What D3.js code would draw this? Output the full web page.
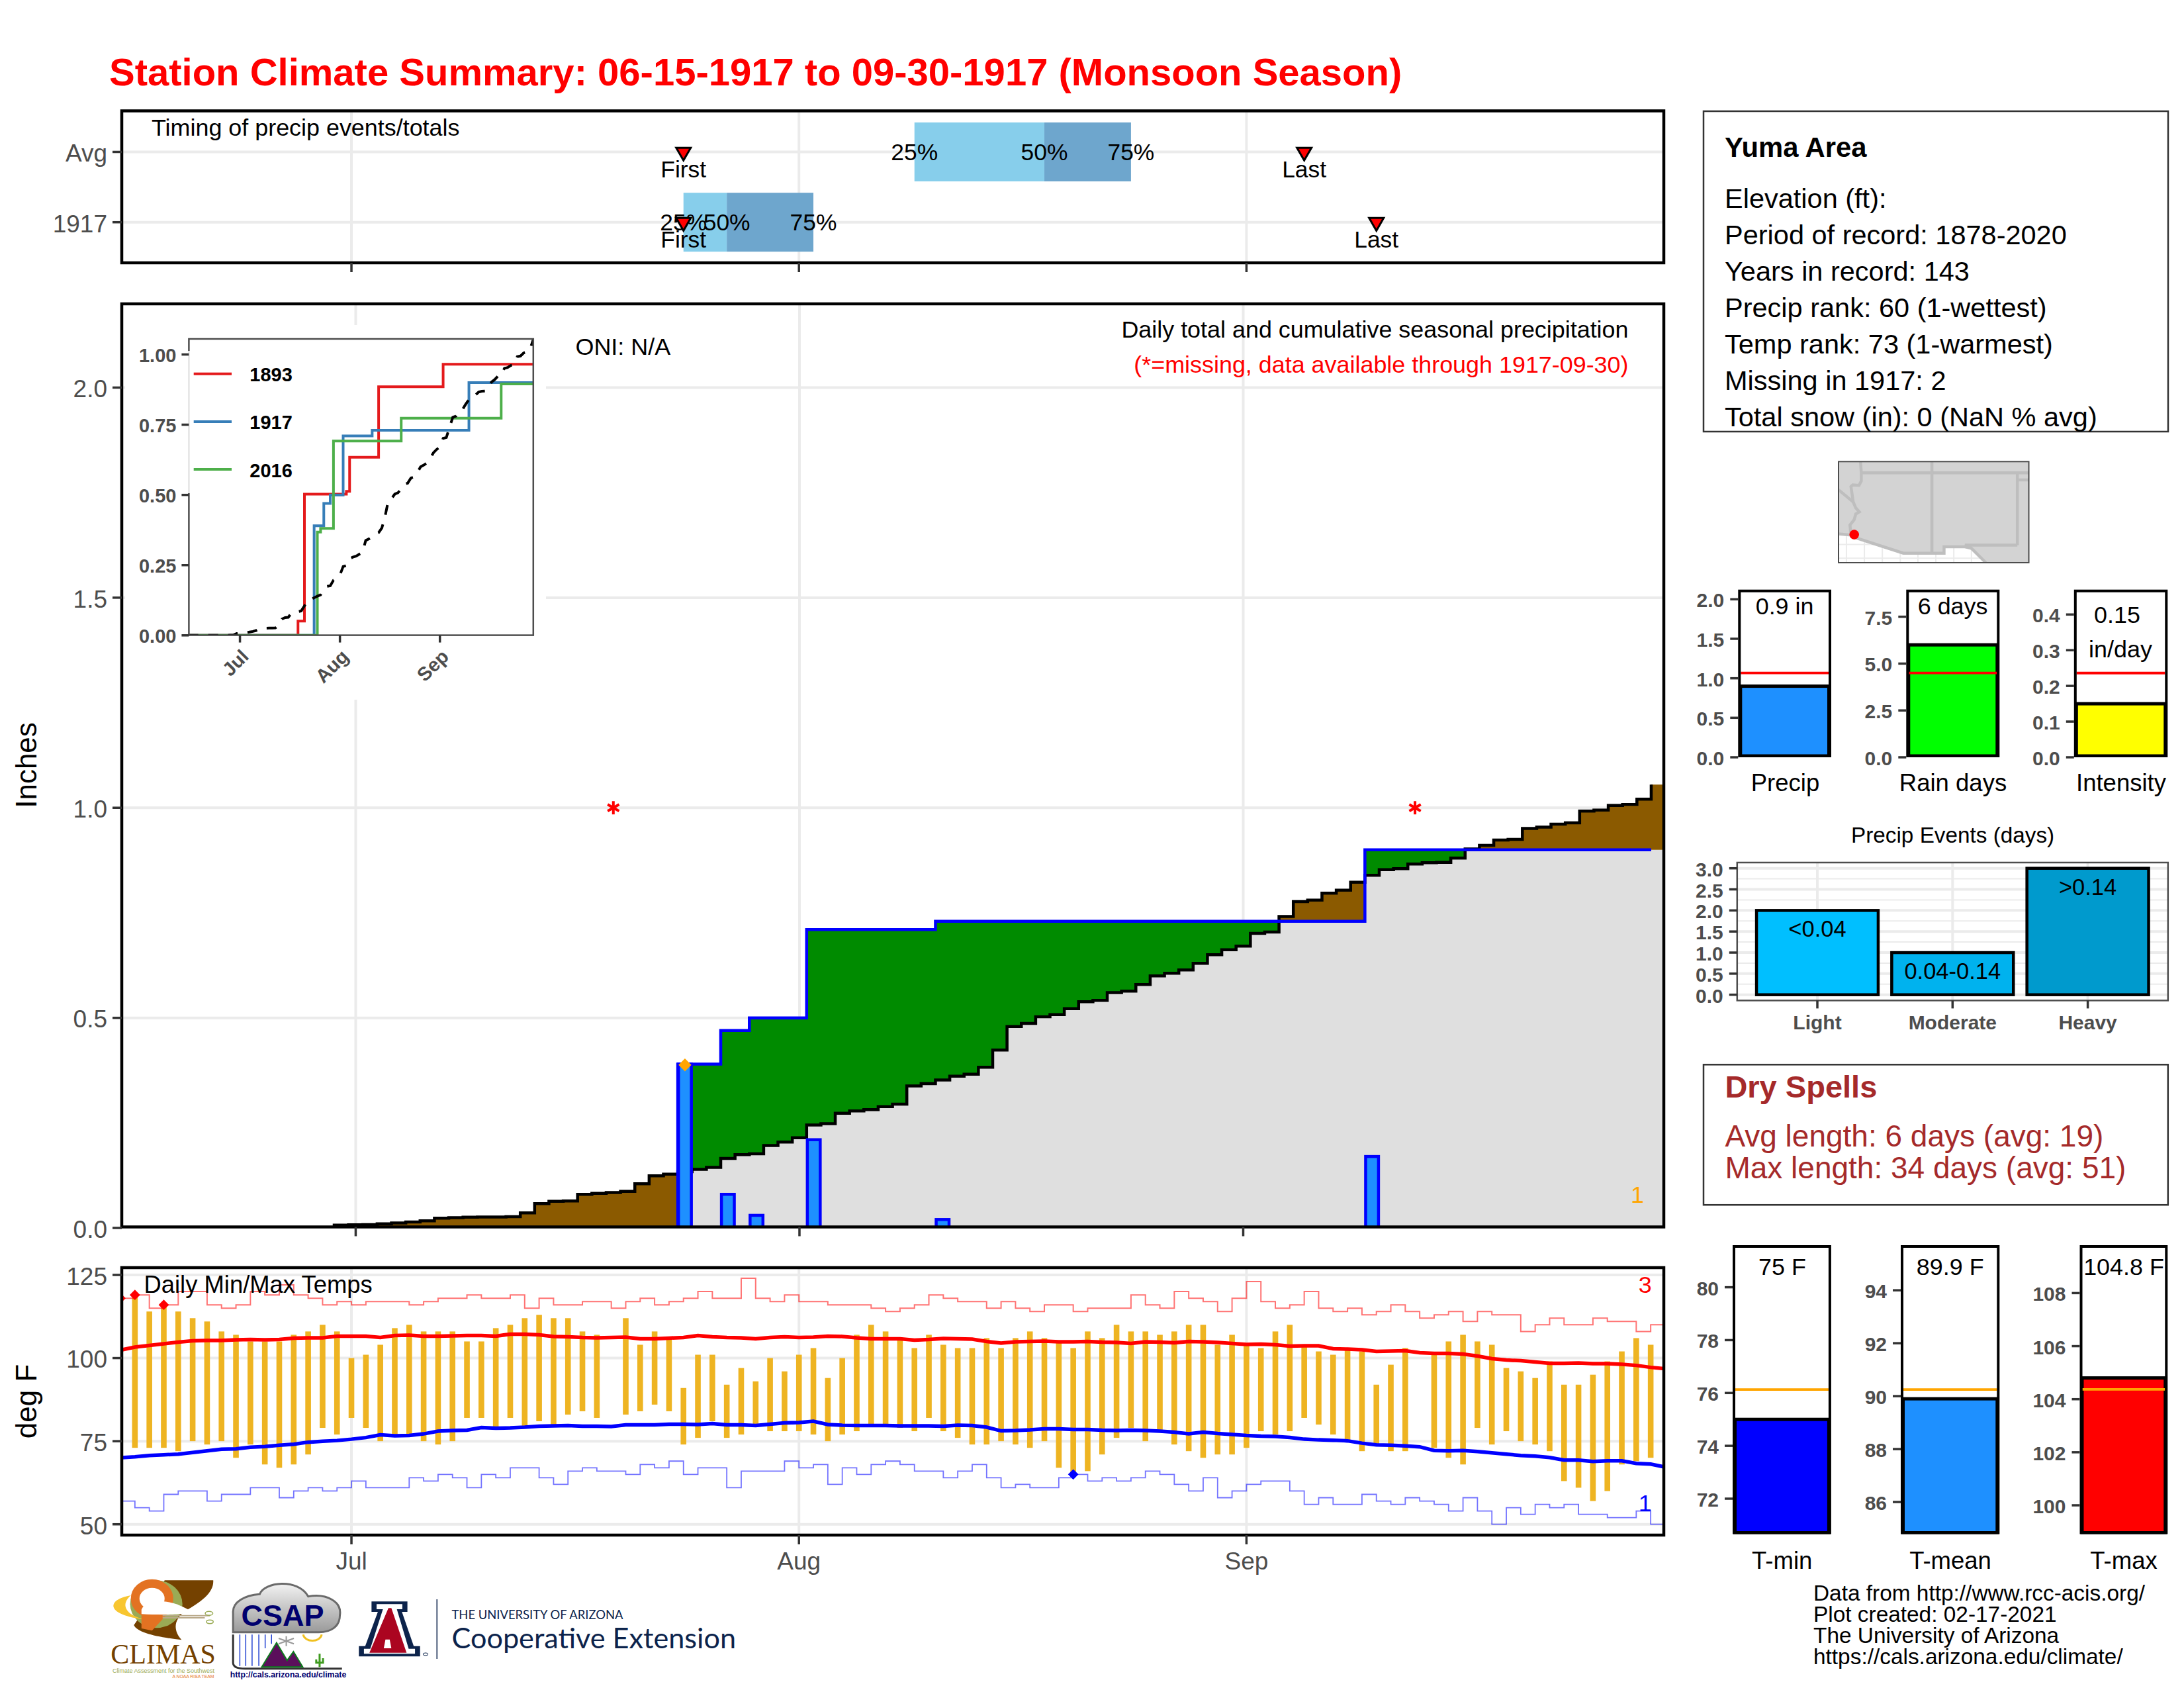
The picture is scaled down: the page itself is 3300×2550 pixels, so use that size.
<!DOCTYPE html>
<html lang="en">
<head>
  <meta charset="UTF-8">
  <title>Station Climate Summary</title>
  <style>
    html, body { margin: 0; background: #fff; }
    svg { display: block; }
    text { font-family: "Liberation Sans", Arial, sans-serif; }
  </style>
</head>
<body>
  <script src="https://d3js.org/d3.v7.min.js"></script>
  <script>
    // day index: 0 = Jun 15 ... 107 = Sep 30
    const monthDays = [16, 47, 78];
    const monthNames = ["Jul", "Aug", "Sep"];

    // timing strip
    const timingRows = ["Avg", "1917"];
    const timingQ25 = [55, 39];
    const timingQ50 = [64, 42];
    const timingQ75 = [70, 48];
    const timingFirst = [39, 39];
    const timingLast = [82, 87];

    // daily precip (inches)
    const wetDays = [39, 42, 44, 48, 57, 87];
    const wetAmounts = [0.39, 0.08, 0.03, 0.21, 0.02, 0.17];
    const missingDays = [34, 90];
    const maxPrecipDay = 39;

    // average cumulative precip for each day
    const avgCum = [
      0, 0, 0, 0, 0, 0, 0, 0, 0, 0, 0, 0, 0, 0.0005, 0.001, 0.0066,
      0.0076, 0.0077, 0.0097, 0.0118, 0.014, 0.0171, 0.0234, 0.0245, 0.0256, 0.026, 0.026, 0.0266,
      0.0359, 0.058, 0.0633, 0.0643, 0.08, 0.0822, 0.0844, 0.0869, 0.105, 0.124, 0.128, 0.134,
      0.1395, 0.1443, 0.1655, 0.1744, 0.1765, 0.1963, 0.2045, 0.2148, 0.2449, 0.2483, 0.2729, 0.2784,
      0.2818, 0.2886, 0.2948, 0.3379, 0.3434, 0.3523, 0.3611, 0.3659, 0.3824, 0.4234, 0.4795, 0.487,
      0.5027, 0.5075, 0.5219, 0.5383, 0.5417, 0.5602, 0.5636, 0.5795, 0.5999, 0.6062, 0.614, 0.6298,
      0.6502, 0.6619, 0.6706, 0.7012, 0.7043, 0.7412, 0.7765, 0.7804, 0.7969, 0.804, 0.8228, 0.8393,
      0.8526, 0.855, 0.866, 0.8691, 0.8699, 0.8801, 0.902, 0.9107, 0.9232, 0.9248, 0.9507, 0.9538,
      0.9609, 0.964, 0.9923, 0.9946, 1.0056, 1.008, 1.0205, 1.055
    ];

    // inset: wettest years, cumulative totals at the days they changed
    const insetYears = ["1893", "1917", "2016"];
    const insetColors = ["#E41A1C", "#377EB8", "#4DAF4A"];
    const days1893 = [0, 34, 36, 49, 50, 59, 79, 107];
    const cum1893 = [0, 0.051, 0.503, 0.513, 0.634, 0.885, 0.965, 0.965];
    const days1917 = [0, 39, 42, 44, 48, 57, 87, 107];
    const cum1917 = [0, 0.39, 0.47, 0.5, 0.71, 0.73, 0.9, 0.9];
    const days2016 = [0, 40, 41, 45, 66, 97, 107];
    const cum2016 = [0, 0.368, 0.381, 0.692, 0.773, 0.895, 0.895];

    // temps (deg F), index = day
    const tmax = [
      null, 119, 114, 116, 114, 112, 111, 108, 107, 105, 105, 105, 107, 108, 110, 108,
      100, 101, 104, 109, 110, 108, 108, 108, 105, 105, 109, 110, 112, 113, 112, 112, 108, 107, null, 112, 104, 108, 106, 91,
      101, 101, 92, 97, 93, 100, 96, 101, 103, 94, 100, 107,
      110, 108, 106, 103, 107, 104, 103, 103, 106, 103, 106, 108, 106, 105, 103, 108, 106, 110, 108, 108, 107, 108, 110, 110, 104, 107,
      104, 103, 108, 110, 104, 102, 101, 103, 102, 92, 98, 103, null, 101, 105, 107, 105, 104, 97, 96, 94, 99, 92, 92, 95, 99, 102, 106, 104
    ];
    const tmin = [
      null, 73, 73, 73, 72, 75, 74, 75, 70, 74, 68, 67, 68, 71, 79, 77,
      82, 79, 75, 77, 77, 75, 74, 75, 82, 82, 79, 82, 79, 81, 80, 83, 84, 82, null, 83, 84, 86, 84, 74,
      76, 81, 76, 77, 80, 78, 78, 78, 77, 75, 77, 78,
      80, 80, 79, 78, 82, 78, 76, 74, 74, 75, 74, 73, 75, 67, 65, 66, 71, 76, 79, 75, 78, 74, 72, 70, 71, 71,
      73, 78, 77, 78, 82, 80, 77, 75, 72, 74, 72, 72, null, 73, 70, 68, 79, 74, 78, 75, 74, 72, 63, 61, 57, 60, 68, 69, 70
    ];
    const avgHigh = [
      102.4, 103.3, 103.8, 104.3, 104.8, 105.2, 105.3, 105.3, 105.5, 105.6, 105.5, 105.6, 106, 106.1, 106.1, 106.6,
      106.6, 106.6, 106.2, 106.8, 106.9, 106.6, 106.6, 106.7, 106.8, 106.8, 106.6, 107.2, 107.2, 107, 106.5, 106.4, 106.2, 106.1, 106.2, 106.3, 105.8, 105.8, 106, 106.2,
      106.8, 106.4, 106.2, 106.1, 105.8, 106.2, 106.4, 106.2, 106.3, 106.6, 106.5, 106.1,
      105.8, 105.8, 105.8, 105.4, 105.6, 105.9, 105.8, 105.7, 105, 104.5, 104.9, 105, 105.1, 104.9, 104.9, 105, 104.8, 104.7, 104.4, 104.9, 104.8, 104.6, 105, 104.9, 104.7, 104.4,
      104.1, 104.2, 104, 103.6, 103.7, 103.7, 102.8, 102.7, 102.5, 102, 102.1, 102.2, 101.6, 101.4, 101.4, 101.2, 100.6, 99.8, 99.4, 99.2, 98.8, 98.4, 98.4, 98.5, 98.3, 98.3, 98.1, 97.8, 97.2, 96.8
    ];
    const avgLow = [
      70, 70.3, 70.7, 70.9, 71.1, 71.6, 72.1, 72.6, 72.7, 73.2, 73.4, 73.8, 74.1, 74.7, 75, 75.2,
      75.6, 76.1, 76.9, 76.6, 76.7, 77.2, 78, 78.2, 78.3, 79.1, 78.9, 79, 79.2, 79.5, 79.6, 79.7, 79.5, 79.5, 79.4, 79.9, 79.9, 79.9, 80.1, 80.1,
      80, 80.3, 79.9, 79.9, 79.7, 80.1, 80.5, 80.6, 81, 80, 79.8, 79.7,
      79.7, 79.7, 79.6, 79.6, 79.6, 79.5, 79.8, 79.7, 79.2, 78.1, 78.2, 78.4, 78.7, 78.7, 78.5, 78.5, 78.3, 78.2, 78.3, 78.2, 78, 77.7, 77.2, 77.7, 77.3, 77,
      76.7, 76.5, 76.4, 76.1, 75.6, 75.4, 75.3, 75.1, 74.4, 73.9, 73.8, 73.6, 73.3, 72.2, 72.1, 72.2, 71.9, 71.5, 71.1, 70.7, 70.5, 70.1, 69.3, 69.3, 68.9, 69.1, 69.1, 68.3, 68.1, 67.2
    ];
    const recordHigh = [
      118, 119, 115, 116, 120, 120, 116, 115, 116, 120, 119, 122, 119, 118, 116, 117,
      116, 117, 117, 117, 116, 117, 118, 118, 119, 118, 118, 119, 115, 118, 116, 116, 117, 117, 115, 117, 118, 116, 117, 118,
      120, 118, 118, 124, 118, 117, 119, 117, 117, 116, 116, 116,
      115, 114, 115, 116, 119, 118, 117, 117, 115, 117, 115, 114, 116, 116, 114, 115, 115, 115, 119, 116, 115, 120, 118, 117, 114, 118,
      123, 117, 115, 116, 120, 115, 114, 115, 113, 114, 116, 114, 112, 113, 114, 111, 114, 113, 113, 108, 110, 112, 110, 110, 112, 111, 111, 108, 110
    ];
    const recordLow = [
      57, 55, 54, 59, 60, 60, 57, 59, 59, 61, 61, 58, 60, 61, 60, 61,
      63, 61, 61, 61, 64, 63, 65, 64, 61, 65, 64, 67, 67, 64, 62, 66, 67, 66, 66, 65, 68, 67, 69, 65,
      67, 67, 61, 66, 66, 66, 69, 67, 68, 62, 67, 65,
      68, 69, 68, 66, 66, 64, 66, 68, 64, 61, 62, 61, 61, 64, 65, 63, 64, 63, 64, 66, 65, 62, 60, 64, 58, 60,
      62, 63, 63, 60, 56, 58, 56, 56, 59, 57, 56, 58, 57, 56, 54, 58, 54, 50, 55, 53, 56, 55, 56, 53, 53, 52, 52, 54, 50
    ];
    const recordHighDays = [0, 1, 3];
    const recordLowDays = [66];

    // side summary bars
    const precipBar = { value: 0.9, avg: 1.068 };
    const rainBar = { value: 6, avg: 4.5 };
    const intensityBar = { value: 0.15, avg: 0.236 };
    const tminBar = { value: 75, avg: 76.13 };
    const tmeanBar = { value: 89.9, avg: 90.25 };
    const tmaxBar = { value: 104.8, avg: 104.37 };

    const eventNames = ["Light", "Moderate", "Heavy"];
    const eventDays = [2, 1, 3];
    const eventLabels = ["<0.04", "0.04-0.14", ">0.14"];
    const eventColors = ["#00BFFF", "#00B2EE", "#009ACD"];

    const infoLines = [
      "Elevation (ft):",
      "Period of record: 1878-2020",
      "Years in record: 143",
      "Precip rank: 60 (1-wettest)",
      "Temp rank: 73 (1-warmest)",
      "Missing in 1917: 2",
      "Total snow (in): 0 (NaN % avg)"
    ];
    const creditLines = [
      "Data from http://www.rcc-acis.org/",
      "Plot created: 02-17-2021",
      "The University of Arizona",
      "https://cals.arizona.edu/climate/"
    ];

    // state lines for the locator map (lon, lat)
    const mexicoEdge = [[-115.66, 32.69], [-114.78, 32.61], [-114.55, 32.45], [-111.07, 31.33], [-108.19, 31.33],
      [-108.19, 31.78], [-106.71, 31.78], [-106.25, 31.67], [-105.23, 30.66]];
    const stateLines = [
      mexicoEdge,
      [[-114.78, 32.61], [-114.85, 33.31], [-114.55, 33.7], [-114.44, 34.09], [-114.19, 34.24], [-114.44, 34.52],
        [-114.62, 34.94], [-114.78, 36.03], [-114.66, 36.14], [-114.21, 36.11], [-114.05, 36.42], [-114.05, 37], [-114.1, 37.79]],
      [[-115.66, 35.8], [-114.62, 34.94]],
      [[-114.05, 37], [-102.19, 37]],
      [[-109.05, 37.79], [-109.05, 31.33]],
      [[-103, 37], [-103, 31.9]],
      [[-103, 36.5], [-102.19, 36.5]],
      [[-103, 31.9], [-106.71, 31.9], [-106.25, 31.67]]
    ];
    const mapGridLons = [-115.1, -113.83, -112.56, -111.29, -110.04, -108.77, -107.5, -106.25];
    const mapGridLats = [31.94, 30.97];
    const stationLonLat = [-114.55, 32.64];

    const width = 3300, height = 2550;
    const ink = "#4D4D4D", tickInk = "#333333", gridInk = "#EBEBEB";
    const noteSize = 35.9;

    const svg = d3.select(document.body).append("svg")
      .attr("xmlns", "http://www.w3.org/2000/svg")
      .attr("width", width).attr("height", height)
      .attr("viewBox", [0, 0, width, height]);

    const label = (g, x, y, s, size, opts = {}) =>
      g.append("text").attr("x", x).attr("y", y).text(s)
        .attr("font-size", size)
        .attr("text-anchor", opts.anchor || "start")
        .attr("font-weight", opts.weight || "normal")
        .attr("fill", opts.fill || "#000");

    const styleAxis = (g, size, weight) => {
      g.select(".domain").remove();
      g.selectAll(".tick line").attr("stroke", tickInk).attr("stroke-width", 3.5);
      g.selectAll(".tick text")
        .attr("font-size", size).attr("font-weight", weight)
        .attr("fill", ink)
        .attr("dy", function () { return this.getAttribute("dy") === "0.32em" ? "0.4em" : this.getAttribute("dy"); });
    };

    let clipCount = 0;
    const clipRect = (x, y, w, h) => {
      const id = `clip${clipCount++}`;
      svg.append("clipPath").attr("id", id).append("rect")
        .attr("x", x).attr("y", y).attr("width", w).attr("height", h);
      return `url(#${id})`;
    };

    const panelLeft = 184, panelRight = 2514;
    const panelFrame = (top, bottom) =>
      svg.append("rect").attr("x", panelLeft).attr("y", top)
        .attr("width", panelRight - panelLeft).attr("height", bottom - top)
        .attr("fill", "none").attr("stroke", "#000").attr("stroke-width", 4.5);

    label(svg, 165, 129, "Station Climate Summary: 06-15-1917 to 09-30-1917 (Monsoon Season)", 58, { weight: "bold", fill: "red" });

    // ---------- timing strip
    const dayX = d3.scaleLinear().domain([0.09, 106.91]).range([panelLeft, panelRight]);
    {
      const top = 167.5, bottom = 397;
      const y = d3.scalePoint().domain(timingRows).range([229.5, 335.7]);
      const g = svg.append("g");
      g.selectAll(".gy").data(timingRows).join("line")
        .attr("x1", panelLeft).attr("x2", panelRight)
        .attr("y1", d => y(d)).attr("y2", d => y(d))
        .attr("stroke", gridInk).attr("stroke-width", 4);
      g.selectAll(".gx").data(monthDays).join("line")
        .attr("x1", d => dayX(d)).attr("x2", d => dayX(d))
        .attr("y1", top).attr("y2", bottom)
        .attr("stroke", gridInk).attr("stroke-width", 4);

      timingRows.forEach((row, i) => {
        const yy = y(row);
        const band = (a, b, fill) => g.append("rect")
          .attr("x", dayX(a)).attr("width", dayX(b) - dayX(a))
          .attr("y", yy - 44.5).attr("height", 89).attr("fill", fill);
        band(timingQ25[i], timingQ50[i], "#87CEEB");
        band(timingQ50[i], timingQ75[i], "#6EA6CD");
        [["25%", timingQ25[i]], ["50%", timingQ50[i]], ["75%", timingQ75[i]]].forEach(([s, d]) =>
          label(g, dayX(d), yy + 12.5, s, 35.4, { anchor: "middle" }));
        [["First", timingFirst[i]], ["Last", timingLast[i]]].forEach(([s, d]) => {
          g.append("path").attr("d", d3.symbol(d3.symbolTriangle, 210)())
            .attr("transform", `translate(${dayX(d)},${yy}) rotate(180)`)
            .attr("fill", "red").attr("stroke", "#000").attr("stroke-width", 3);
          label(g, dayX(d), yy + 38, s, 35.4, { anchor: "middle" });
        });
      });
      label(g, 229, 205, "Timing of precip events/totals", noteSize);
      panelFrame(top, bottom);
      svg.append("g").attr("transform", `translate(${panelLeft},0)`)
        .call(d3.axisLeft(y).tickSize(14).tickPadding(8).offset(0))
        .call(s => styleAxis(s, 37, "normal"));
      svg.append("g").attr("transform", `translate(0,${bottom})`)
        .call(d3.axisBottom(dayX).tickValues(monthDays).tickFormat("").tickSize(14).offset(0))
        .call(s => styleAxis(s, 37, "normal"));
    }

    // ---------- main precip panel
    const mainX = d3.scaleLinear().domain([-0.34, 107.38]).range([panelLeft, panelRight]);
    const mainY = d3.scaleLinear().domain([0, 2]).range([1855, 585.5]);
    const obsCum = avgCum.map((_, day) =>
      d3.sum(wetDays.map((w, i) => (w <= day ? wetAmounts[i] : 0))));
    {
      const top = 459, bottom = 1853.5;
      const g = svg.append("g");
      g.selectAll(".gy").data([0.5, 1, 1.5, 2]).join("line")
        .attr("x1", panelLeft).attr("x2", panelRight)
        .attr("y1", d => mainY(d)).attr("y2", d => mainY(d))
        .attr("stroke", gridInk).attr("stroke-width", 4);
      g.selectAll(".gx").data(monthDays).join("line")
        .attr("x1", d => mainX(d)).attr("x2", d => mainX(d))
        .attr("y1", top).attr("y2", bottom)
        .attr("stroke", gridInk).attr("stroke-width", 4);

      const clip = clipRect(panelLeft, top, panelRight - panelLeft, bottom - top);
      const marks = g.append("g").attr("clip-path", clip);

      // one step per day, each value spans day-0.5 to day+0.5
      const steps = [{ day: -1, avg: 0, obs: 0 }].concat(avgCum.map((a, i) => ({ day: i, avg: a, obs: obsCum[i] })));
      const area = (lo, hi) => d3.area().curve(d3.curveStepBefore)
        .x(d => mainX(d.day + 0.5)).y0(d => mainY(lo(d))).y1(d => mainY(hi(d)));
      const band = (lo, hi, fill) => marks.append("path").datum(steps)
        .attr("d", area(lo, hi)).attr("fill", fill);
      band(() => 0, d => Math.min(d.avg, d.obs), "#DFDFDF");
      band(d => d.avg, d => Math.max(d.avg, d.obs), "#008B00");
      band(d => d.obs, d => Math.max(d.avg, d.obs), "#8B5A00");

      const stepLine = d3.line().curve(d3.curveStepBefore).x(d => mainX(d[0] + 0.5)).y(d => mainY(d[1]));
      const avgPts = avgCum.slice(0, 107).map((v, i) => [i, v]).concat([[106, avgCum[107]]]);
      marks.append("path").datum(avgPts).attr("d", stepLine)
        .attr("fill", "none").attr("stroke", "#000").attr("stroke-width", 4.5);

      marks.selectAll(".wet").data(wetDays).join("rect")
        .attr("x", d => mainX(d - 0.45)).attr("width", mainX(0.9) - mainX(0))
        .attr("y", (d, i) => mainY(wetAmounts[i]))
        .attr("height", (d, i) => mainY(0) - mainY(wetAmounts[i]))
        .attr("fill", "#1E90FF").attr("stroke", "blue").attr("stroke-width", 4.5);

      marks.append("path").datum(obsCum.slice(0, 107).map((v, i) => [i, v])).attr("d", stepLine)
        .attr("fill", "none").attr("stroke", "blue").attr("stroke-width", 4.5);

      marks.append("path").attr("d", d3.symbol(d3.symbolSquare, 190)())
        .attr("transform", `translate(${mainX(maxPrecipDay)},${mainY(0.388)}) rotate(45)`)
        .attr("fill", "orange");

      g.selectAll(".missing").data(missingDays).join("path")
        .attr("d", d3.symbol(d3.symbolAsterisk, 283)())
        .attr("transform", d => `translate(${mainX(d)},${mainY(1)})`)
        .attr("fill", "none").attr("stroke", "red").attr("stroke-width", 4);

      label(g, 2474, 1817, "1", noteSize, { anchor: "middle", fill: "orange" });
      label(g, 869.5, 536, "ONI: N/A", noteSize);
      label(g, 2460.5, 510, "Daily total and cumulative seasonal precipitation", noteSize, { anchor: "end" });
      label(g, 2460.5, 563, "(*=missing, data available through 1917-09-30)", noteSize, { anchor: "end", fill: "red" });

      panelFrame(top, bottom);
      svg.append("g").attr("transform", `translate(${panelLeft},0)`)
        .call(d3.axisLeft(mainY).tickValues([0, 0.5, 1, 1.5, 2]).tickFormat(d3.format(".1f")).tickSize(14).tickPadding(8).offset(0))
        .call(s => styleAxis(s, 37, "normal"));
      svg.append("g").attr("transform", `translate(0,${bottom})`)
        .call(d3.axisBottom(mainX).tickValues(monthDays).tickFormat("").tickSize(14).offset(0))
        .call(s => styleAxis(s, 37, "normal"));
      svg.append("text").attr("transform", "translate(55,1156) rotate(-90)").text("Inches")
        .attr("font-size", 44).attr("text-anchor", "middle");
    }

    // ---------- inset with wettest years
    {
      const x = d3.scaleLinear().domain([0, 107]).range([284.6, 806]);
      const y = d3.scaleLinear().domain([0, 1]).range([959.8, 535.5]);
      const g = svg.append("g");
      g.append("rect").attr("x", 189).attr("y", 491).attr("width", 636).attr("height", 566).attr("fill", "#fff");
      const clip = clipRect(285.4, 512, 520.4, 447.6);
      const marks = g.append("g").attr("clip-path", clip);
      const step = d3.line().curve(d3.curveStepAfter).x(d => x(d[0])).y(d => y(d[1]));
      [[days1893, cum1893], [days1917, cum1917], [days2016, cum2016]].forEach(([days, cum], i) => {
        marks.append("path").datum(days.map((d, j) => [d, cum[j]])).attr("d", step)
          .attr("fill", "none").attr("stroke", insetColors[i]).attr("stroke-width", 4);
      });
      marks.append("path").datum(avgCum.map((v, i) => [i, v]))
        .attr("d", d3.line().x(d => x(d[0])).y(d => y(d[1])))
        .attr("fill", "none").attr("stroke", "#000").attr("stroke-width", 4)
        .attr("stroke-dasharray", "15 15");
      g.append("rect").attr("x", 285.4).attr("y", 512).attr("width", 520.4).attr("height", 447.6)
        .attr("fill", "none").attr("stroke", ink).attr("stroke-width", 2.5);
      // legend sits on a white key, it mostly hides the frame here
      g.append("rect").attr("x", 283).attr("y", 530).attr("width", 155).attr("height", 215)
        .attr("fill", "#fff").attr("fill-opacity", 0.85);
      insetYears.forEach((yr, i) => {
        const ly = 564.7 + i * 72.2;
        g.append("line").attr("x1", 292.7).attr("x2", 350).attr("y1", ly).attr("y2", ly)
          .attr("stroke", insetColors[i]).attr("stroke-width", 4);
        label(g, 377.3, ly + 11.5, yr, 29, { weight: "bold" });
      });
      g.append("g").attr("transform", "translate(285.4,0)")
        .call(d3.axisLeft(y).tickValues([0, 0.25, 0.5, 0.75, 1]).tickFormat(d3.format(".2f")).tickSize(11).tickPadding(8).offset(0))
        .call(s => styleAxis(s, 29, "bold"));
      g.append("g").attr("transform", "translate(0,959.6)")
        .call(d3.axisBottom(x).tickValues(monthDays).tickFormat((d, i) => monthNames[i]).tickSize(11).offset(0))
        .call(s => styleAxis(s, 29, "bold"))
        .call(s => s.selectAll(".tick text")
          .attr("text-anchor", "end").attr("dy", 0).attr("y", 0)
          .attr("transform", "translate(15,34) rotate(-45)"));
    }

    // ---------- daily temps
    {
      const top = 1915, bottom = 2319;
      const y = d3.scaleLinear().domain([50, 125]).range([2302.7, 1926]);
      const g = svg.append("g");
      g.selectAll(".gy").data([50, 75, 100, 125]).join("line")
        .attr("x1", panelLeft).attr("x2", panelRight)
        .attr("y1", d => y(d)).attr("y2", d => y(d))
        .attr("stroke", gridInk).attr("stroke-width", 4);
      g.selectAll(".gx").data(monthDays).join("line")
        .attr("x1", d => dayX(d)).attr("x2", d => dayX(d))
        .attr("y1", top).attr("y2", bottom)
        .attr("stroke", gridInk).attr("stroke-width", 4);

      const marks = g.append("g").attr("clip-path", clipRect(panelLeft, top, panelRight - panelLeft, bottom - top));
      marks.selectAll(".range").data(tmax.map((d, i) => i).filter(i => tmax[i] !== null)).join("rect")
        .attr("x", i => dayX(i) - 4.3).attr("width", 8.6)
        .attr("y", i => y(tmax[i])).attr("height", i => y(tmin[i]) - y(tmax[i]))
        .attr("fill", "#EEB422");

      const smooth = d3.line().x((d, i) => dayX(i)).y(d => y(d));
      marks.append("path").datum(avgHigh).attr("d", smooth)
        .attr("fill", "none").attr("stroke", "red").attr("stroke-width", 5.5);
      marks.append("path").datum(avgLow).attr("d", smooth)
        .attr("fill", "none").attr("stroke", "blue").attr("stroke-width", 5.5);

      // last record value carries on to the panel edge
      const recordStep = d3.line().curve(d3.curveStepAfter).x((d, i) => dayX(i)).y(d => y(d));
      marks.append("path").datum(recordHigh.concat(recordHigh[106])).attr("d", recordStep)
        .attr("fill", "none").attr("stroke", "red").attr("stroke-width", 2).attr("stroke-opacity", 0.55);
      marks.append("path").datum(recordLow.concat(recordLow[106])).attr("d", recordStep)
        .attr("fill", "none").attr("stroke", "blue").attr("stroke-width", 1.8).attr("stroke-opacity", 0.55);

      const diamond = d3.symbol(d3.symbolSquare, 125)();
      recordHighDays.forEach(d => marks.append("path").attr("d", diamond)
        .attr("transform", `translate(${dayX(d)},${y(recordHigh[d])}) rotate(45)`).attr("fill", "red"));
      recordLowDays.forEach(d => marks.append("path").attr("d", diamond)
        .attr("transform", `translate(${dayX(d)},${y(recordLow[d])}) rotate(45)`).attr("fill", "blue"));

      label(g, 217.5, 1952.5, "Daily Min/Max Temps", 36.4);
      label(g, 2485.8, 1952.5, "3", noteSize, { anchor: "middle", fill: "red" });
      label(g, 2485.8, 2283, "1", noteSize, { anchor: "middle", fill: "blue" });

      panelFrame(top, bottom);
      svg.append("g").attr("transform", `translate(${panelLeft},0)`)
        .call(d3.axisLeft(y).tickValues([50, 75, 100, 125]).tickSize(14).tickPadding(8).offset(0))
        .call(s => styleAxis(s, 37, "normal"));
      svg.append("g").attr("transform", `translate(0,${bottom})`)
        .call(d3.axisBottom(dayX).tickValues(monthDays).tickFormat((d, i) => monthNames[i]).tickSize(14).tickPadding(12).offset(0))
        .call(s => styleAxis(s, 37, "normal"));
      svg.append("text").attr("transform", "translate(55,2117) rotate(-90)").text("deg F")
        .attr("font-size", 44).attr("text-anchor", "middle");
    }

    // ---------- info box
    {
      const g = svg.append("g");
      g.append("rect").attr("x", 2574).attr("y", 168).attr("width", 702).attr("height", 484)
        .attr("fill", "none").attr("stroke", tickInk).attr("stroke-width", 2.5);
      label(g, 2606, 237, "Yuma Area", 41.8, { weight: "bold" });
      g.selectAll(".info").data(infoLines).join("text")
        .attr("x", 2606).attr("y", (d, i) => 314 + i * 55)
        .attr("font-size", 41.5).text(d => d);
    }

    // ---------- locator map
    {
      const lon = d3.scaleLinear().domain([-115.66, -102.19]).range([2778, 3065.5]);
      const lat = d3.scaleLinear().domain([37.79, 30.66]).range([697.3, 850]);
      const path = d3.line().x(d => lon(d[0])).y(d => lat(d[1]));
      const g = svg.append("g").attr("clip-path", clipRect(2778, 697.3, 287.5, 152.7));
      g.selectAll(".lon").data(mapGridLons).join("line")
        .attr("x1", d => lon(d)).attr("x2", d => lon(d)).attr("y1", 697).attr("y2", 850)
        .attr("stroke", gridInk).attr("stroke-width", 2);
      g.selectAll(".lat").data(mapGridLats).join("line")
        .attr("y1", d => lat(d)).attr("y2", d => lat(d)).attr("x1", 2778).attr("x2", 3066)
        .attr("stroke", gridInk).attr("stroke-width", 2);
      const land = [[-115.66, 37.79], [-102.19, 37.79], [-102.19, 30.66]].concat(mexicoEdge.slice().reverse());
      g.append("path").attr("d", path(land) + "Z").attr("fill", "#D3D3D3");
      g.selectAll(".state").data(stateLines).join("path")
        .attr("d", path).attr("fill", "none").attr("stroke", "#BEBEBE").attr("stroke-width", 4.5);
      g.append("circle").attr("cx", lon(stationLonLat[0])).attr("cy", lat(stationLonLat[1])).attr("r", 7.3).attr("fill", "red");
      svg.append("rect").attr("x", 2778).attr("y", 697.3).attr("width", 287.5).attr("height", 152.7)
        .attr("fill", "none").attr("stroke", ink).attr("stroke-width", 2);
    }

    // ---------- small summary bars
    const summaryBar = (o) => {
      const y = d3.scaleLinear().domain(o.domain).range(o.range);
      const g = svg.append("g");
      const base = o.bottom;
      const clip = clipRect(o.left, o.top, o.right - o.left, o.bottom - o.top);
      g.append("rect").attr("clip-path", clip)
        .attr("x", o.left + 3.5).attr("width", o.right - o.left - 7)
        .attr("y", y(o.value)).attr("height", Math.max(0, base - 2 - y(o.value)))
        .attr("fill", o.fill).attr("stroke", "#000").attr("stroke-width", 5);
      g.append("line").attr("x1", o.left + 4).attr("x2", o.right - 4)
        .attr("y1", y(o.avg)).attr("y2", y(o.avg))
        .attr("stroke", o.lineColor).attr("stroke-width", 3.8);
      g.append("rect").attr("x", o.left + 2).attr("y", o.top + 2)
        .attr("width", o.right - o.left - 4).attr("height", o.bottom - o.top - 4)
        .attr("fill", "none").attr("stroke", "#000").attr("stroke-width", 4);
      o.texts.forEach(t => label(g, t[0], t[1] + 2, t[2], noteSize, { anchor: "middle" }));
      label(g, o.labelX, o.labelY + 2, o.name, 36.5, { anchor: "middle" });
      g.append("g").attr("transform", `translate(${o.left},0)`)
        .call(d3.axisLeft(y).tickValues(o.ticks).tickFormat(d3.format(o.format)).tickSize(12).tickPadding(9).offset(0))
        .call(s => styleAxis(s, 30, "bold"));
    };
    const tickFmt1 = ".1f";
    summaryBar({
      name: "Precip", fill: "#1E90FF", lineColor: "red", ...precipBar,
      left: 2626.3, right: 2767, top: 890.7, bottom: 1144,
      domain: [0, 2], range: [1144, 905.3], ticks: [0, 0.5, 1, 1.5, 2], format: tickFmt1,
      texts: [[2696.6, 926, "0.9 in"]], labelX: 2697.5, labelY: 1193
    });
    summaryBar({
      name: "Rain days", fill: "#00FF00", lineColor: "red", ...rainBar,
      left: 2880.3, right: 3021.3, top: 890.7, bottom: 1144,
      domain: [0, 7.5], range: [1144, 931.7], ticks: [0, 2.5, 5, 7.5], format: tickFmt1,
      texts: [[2950.6, 926, "6 days"]], labelX: 2951, labelY: 1193
    });
    summaryBar({
      name: "Intensity", fill: "#FFFF00", lineColor: "red", ...intensityBar,
      left: 3133.8, right: 3275.3, top: 890.7, bottom: 1144,
      domain: [0, 0.4], range: [1144, 928.3], ticks: [0, 0.1, 0.2, 0.3, 0.4], format: tickFmt1,
      texts: [[3199, 939, "0.15"], [3204, 990.7, "in/day"]], labelX: 3205, labelY: 1193
    });
    summaryBar({
      name: "T-min", fill: "#0000FF", lineColor: "orange", ...tminBar,
      left: 2618, right: 2766.9, top: 1881, bottom: 2317.5,
      domain: [72, 80], range: [2264, 1944.6], ticks: [72, 74, 76, 78, 80], format: "d",
      texts: [[2693, 1924.4, "75 F"]], labelX: 2692.7, labelY: 2368.4
    });
    summaryBar({
      name: "T-mean", fill: "#1E90FF", lineColor: "orange", ...tmeanBar,
      left: 2872, right: 3021.3, top: 1881, bottom: 2317.5,
      domain: [86, 94], range: [2269, 1949.2], ticks: [86, 88, 90, 92, 94], format: "d",
      texts: [[2946.7, 1924.4, "89.9 F"]], labelX: 2947, labelY: 2368.4
    });
    summaryBar({
      name: "T-max", fill: "#FF0000", lineColor: "orange", ...tmaxBar,
      left: 3142.5, right: 3275.3, top: 1881, bottom: 2317.5,
      domain: [100, 108], range: [2274, 1953.4], ticks: [100, 102, 104, 106, 108], format: "d",
      texts: [[3209, 1924.4, "104.8 F"]], labelX: 3209, labelY: 2368.4
    });

    // ---------- precip events
    {
      const left = 2624.8, right = 3275.8, top = 1303, bottom = 1511.4;
      const x = d3.scaleBand().domain(eventNames).range([2643.85, 3256.75]).paddingInner(0.1).paddingOuter(0.05);
      const y = d3.scaleLinear().domain([0, 3]).range([1502.7, 1311.7]);
      const g = svg.append("g");
      label(g, 2950.6, 1273, "Precip Events (days)", 33.3, { anchor: "middle" });
      g.selectAll(".minor").data([0.25, 0.75, 1.25, 1.75, 2.25, 2.75]).join("line")
        .attr("x1", left).attr("x2", right).attr("y1", d => y(d)).attr("y2", d => y(d))
        .attr("stroke", gridInk).attr("stroke-width", 2);
      g.selectAll(".major").data([0, 0.5, 1, 1.5, 2, 2.5, 3]).join("line")
        .attr("x1", left).attr("x2", right).attr("y1", d => y(d)).attr("y2", d => y(d))
        .attr("stroke", gridInk).attr("stroke-width", 4);
      g.selectAll(".gx").data(eventNames).join("line")
        .attr("x1", d => x(d) + x.bandwidth() / 2).attr("x2", d => x(d) + x.bandwidth() / 2)
        .attr("y1", top).attr("y2", bottom)
        .attr("stroke", gridInk).attr("stroke-width", 4);
      g.selectAll(".bar").data(eventNames).join("rect")
        .attr("x", d => x(d)).attr("width", x.bandwidth())
        .attr("y", (d, i) => y(eventDays[i])).attr("height", (d, i) => y(0) - y(eventDays[i]))
        .attr("fill", (d, i) => eventColors[i]).attr("stroke", "#000").attr("stroke-width", 4.5);
      eventNames.forEach((d, i) => label(g, x(d) + x.bandwidth() / 2, y(eventDays[i]) + 40, eventLabels[i], 34.5, { anchor: "middle" }));
      g.append("rect").attr("x", left).attr("y", top).attr("width", right - left).attr("height", bottom - top)
        .attr("fill", "none").attr("stroke", ink).attr("stroke-width", 2.5);
      g.append("g").attr("transform", `translate(${left},0)`)
        .call(d3.axisLeft(y).tickValues([0, 0.5, 1, 1.5, 2, 2.5, 3]).tickFormat(d3.format(".1f")).tickSize(12).tickPadding(9).offset(0))
        .call(s => styleAxis(s, 30, "bold"));
      g.append("g").attr("transform", `translate(0,${bottom})`)
        .call(d3.axisBottom(x).tickSize(12).tickPadding(10).offset(0))
        .call(s => styleAxis(s, 30, "bold"));
    }

    // ---------- dry spells
    {
      const g = svg.append("g");
      g.append("rect").attr("x", 2574).attr("y", 1608.3).attr("width", 701.8).attr("height", 211.9)
        .attr("fill", "none").attr("stroke", tickInk).attr("stroke-width", 2.5);
      label(g, 2606.4, 1658, "Dry Spells", 47, { weight: "bold", fill: "#A52A2A" });
      label(g, 2606.4, 1731.5, "Avg length: 6 days (avg: 19)", 46, { fill: "#A52A2A" });
      label(g, 2606.4, 1780, "Max length: 34 days (avg: 51)", 46, { fill: "#A52A2A" });
    }

    // ---------- credits
    svg.append("g").selectAll("text").data(creditLines).join("text")
      .attr("x", 2740).attr("y", (d, i) => 2418.4 + i * 31.7)
      .attr("font-size", 33.4).text(d => d);

    // ---------- logos, drawn loosely
    {
      const defs = svg.append("defs");
      const grad = defs.append("linearGradient").attr("id", "cloud").attr("x1", 0).attr("x2", 0).attr("y1", 0).attr("y2", 1);
      grad.append("stop").attr("offset", 0).attr("stop-color", "#F2F2F2");
      grad.append("stop").attr("offset", 1).attr("stop-color", "#9A9A9A");

      const g = svg.append("g").attr("transform", "translate(150,2300) scale(0.6378,0.3333)");
      const p = (d, fill, stroke, sw) => g.append("path").attr("d", d)
        .attr("fill", fill || "none").attr("stroke", stroke || "none")
        .attr("stroke-width", sw || 0).attr("vector-effect", "non-scaling-stroke");

      // climas
      p("M155,262 H270 C272,320 240,360 205,400 C175,440 175,490 195,532 C140,520 90,500 82,465 Z", "#744100");
      g.append("ellipse").attr("cx", 135).attr("cy", 370).attr("rx", 62).attr("ry", 108).attr("fill", "#9AAB55");
      g.append("ellipse").attr("cx", 125).attr("cy", 345).attr("rx", 40).attr("ry", 68)
        .attr("fill", "#fff").attr("stroke", "#E37222").attr("stroke-width", 13).attr("vector-effect", "non-scaling-stroke");
      p("M100,395 C110,340 170,345 215,400 C215,420 150,420 100,415 Z", "#fff");
      p("M75,330 C15,350 15,420 110,440 C60,420 50,370 75,330 Z", "#F8C630");
      p("M100,420 L160,418 L125,490 L100,480 Z", "#E37222");
      p("M150,422 H262 M150,432 H250", null, "#B9A98A", 2);
      g.append("circle").attr("cx", 260).attr("cy", 412).attr("r", 9).attr("fill", "none").attr("stroke", "#9AAB55").attr("stroke-width", 1.5).attr("vector-effect", "non-scaling-stroke");
      g.append("circle").attr("cx", 262).attr("cy", 450).attr("r", 8).attr("fill", "none").attr("stroke", "#9AAB55").attr("stroke-width", 1.5).attr("vector-effect", "non-scaling-stroke");

      // csap cloud and scene
      p("M317,497 V410 C315,360 345,330 380,325 C390,270 470,250 495,335 C540,320 575,360 570,420 C570,470 550,497 520,497 Z", "url(#cloud)", "#6A6A6A", 3);
      p("M333,508 V650 M347,508 V650 M362,508 V650 M378,508 V650 M393,508 V570 M408,508 V550", null, "#1F3FD0", 1.5);
      p("M317,508 V635 Q317,662 345,662 H575", null, "#333", 3);
      p("M385,655 L420,545 L445,625 L460,585 L482,655 Z", "#5B0F5B", "#0E7A1E", 2);
      p("M443,515 V560 M425,525 L461,550 M461,525 L425,550", null, "#999", 2);
      p("M483,508 C487,545 523,545 527,508", null, "#F0C020", 3);
      p("M522,595 V655 M514,620 V635 H530 V615", null, "#3E9A1E", 3);

      // arizona block A
      p("M645,358 H730 V405 H717 L745,560 H760 V607 H615 V560 H630 L660,405 H645 Z", "#0C234B");
      p("M657,370 H718 V393 H705 L733,572 H748 V595 H627 V572 H642 L672,393 H657 Z", "#fff");
      p("M685,388 H692 L728,590 H680 V570 H692 L688,530 H678 L674,570 H686 V590 H640 Z", "#AB0520");
      p("M800,348 V618", null, "#0C234B", 1.5);
      g.append("circle").attr("cx", 773).attr("cy", 597).attr("r", 6).attr("fill", "none").attr("stroke", "#0C234B").attr("stroke-width", 1).attr("vector-effect", "non-scaling-stroke");

      const t = svg.append("g");
      t.append("text").attr("x", 246.5).attr("y", 2513).text("CLIMAS")
        .attr("font-size", 42).attr("text-anchor", "middle").attr("fill", "#744100")
        .style("font-family", "'Liberation Serif', serif");
      label(t, 170, 2527, "Climate Assessment for the Southwest", 9, { fill: "#9AAB55" });
      label(t, 323.5, 2535, "A NOAA RISA TEAM", 6.8, { anchor: "end", fill: "#E37222" });
      label(t, 427, 2456, "CSAP", 45, { anchor: "middle", weight: "bold", fill: "#00006E" });
      label(t, 347.7, 2534, "http://cals.arizona.edu/climate", 12.3, { weight: "bold", fill: "#00006E" });
      t.append("text").attr("x", 682.5).attr("y", 2446).text("THE UNIVERSITY OF ARIZONA")
        .attr("font-size", 18.4).attr("fill", "#0C234B").style("font-family", "Lato, sans-serif");
      t.append("text").attr("x", 682.5).attr("y", 2490).text("Cooperative Extension")
        .attr("font-size", 43.2).attr("fill", "#0C234B").style("font-family", "Lato, sans-serif");
    }
  </script>
</body>
</html>
